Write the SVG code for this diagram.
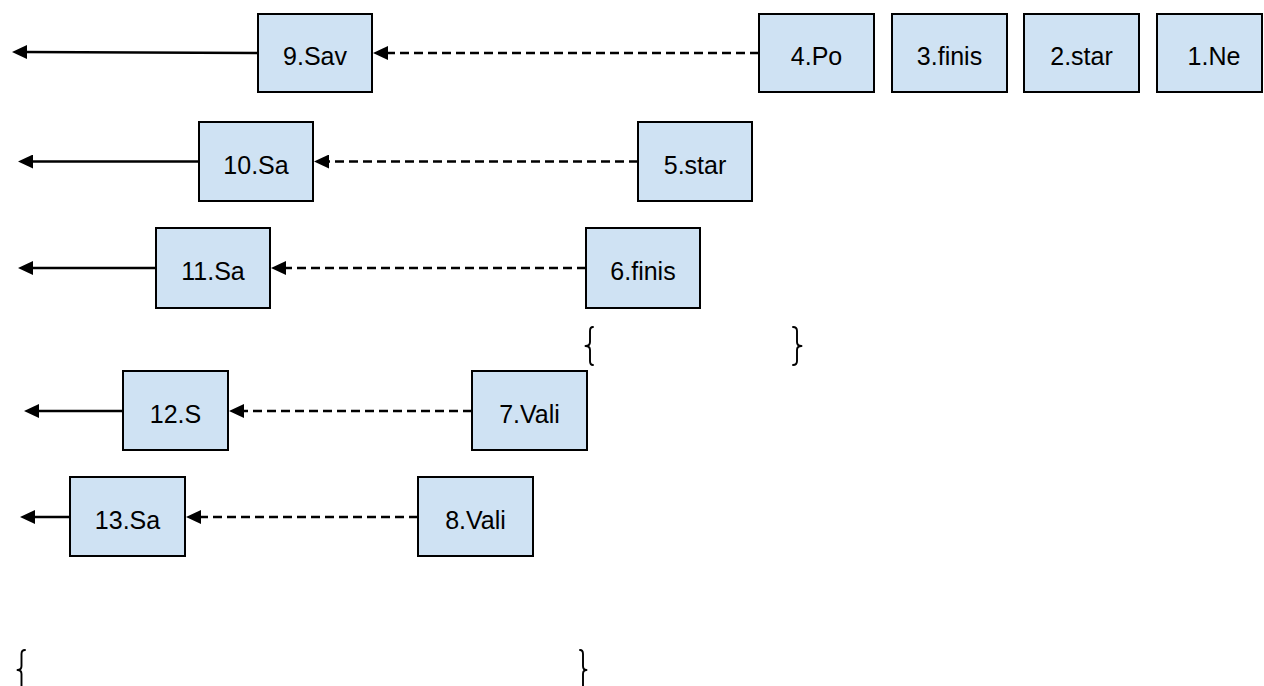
<svg xmlns="http://www.w3.org/2000/svg" width="1264" height="686" viewBox="0 0 1264 686">
<style>
.box{fill:#cfe2f3;stroke:#000;stroke-width:2}
.lbl{font-family:"Liberation Sans",Arial,sans-serif;font-size:25px;fill:#000;text-anchor:middle}
.solid{stroke:#000;stroke-width:2.4;fill:none;marker-end:url(#ah)}
.dash{stroke:#000;stroke-width:2.4;fill:none;stroke-dasharray:9 5;marker-end:url(#ah)}
.brace{stroke:#000;stroke-width:1.9;fill:none;stroke-linejoin:round;stroke-linecap:round}
</style>
<defs>
<marker id="ah" viewBox="0 0 15 14" refX="4" refY="7" markerWidth="15" markerHeight="14" markerUnits="userSpaceOnUse" orient="auto">
<path d="M0,0 L15,7 L0,14 z" fill="#000"/>
</marker>
</defs>
<rect width="1264" height="686" fill="#fff"/>
<g id="connectors">
<line class="solid" x1="257" y1="53" x2="23" y2="52"/>
<line class="dash" x1="759" y1="53" x2="384" y2="53"/>
<line class="solid" x1="199" y1="161.5" x2="29" y2="161.5"/>
<line class="dash" x1="638" y1="161.5" x2="325" y2="161.5"/>
<line class="solid" x1="156" y1="268" x2="29" y2="268"/>
<line class="dash" x1="586" y1="268" x2="282" y2="268"/>
<line class="solid" x1="123" y1="411" x2="35" y2="411"/>
<line class="dash" x1="472" y1="411" x2="240" y2="411"/>
<line class="solid" x1="70" y1="517" x2="31" y2="517"/>
<line class="dash" x1="418" y1="517" x2="197" y2="517"/>
</g>
<g id="n1"><rect class="box" x="1157" y="14" width="105" height="78"/><text class="lbl" x="1214" y="65">1.Ne</text></g>
<g id="n2"><rect class="box" x="1024" y="14" width="115" height="78"/><text class="lbl" x="1081.5" y="65">2.star</text></g>
<g id="n3"><rect class="box" x="892" y="14" width="115" height="78"/><text class="lbl" x="949.5" y="65">3.finis</text></g>
<g id="n4"><rect class="box" x="759" y="14" width="115" height="78"/><text class="lbl" x="816.5" y="65">4.Po</text></g>
<g id="n9"><rect class="box" x="258" y="14" width="114" height="78"/><text class="lbl" x="315" y="65">9.Sav</text></g>
<g id="n5"><rect class="box" x="638" y="122" width="114" height="79"/><text class="lbl" x="695" y="173.5">5.star</text></g>
<g id="n10"><rect class="box" x="199" y="122" width="114" height="79"/><text class="lbl" x="256" y="173.5">10.Sa</text></g>
<g id="n6"><rect class="box" x="586" y="228" width="114" height="80"/><text class="lbl" x="643" y="280">6.finis</text></g>
<g id="n11"><rect class="box" x="156" y="228" width="114" height="80"/><text class="lbl" x="213" y="280">11.Sa</text></g>
<g id="n7"><rect class="box" x="472" y="371" width="115" height="79"/><text class="lbl" x="529.5" y="423">7.Vali</text></g>
<g id="n12"><rect class="box" x="123" y="371" width="105" height="79"/><text class="lbl" x="175.5" y="423">12.S</text></g>
<g id="n8"><rect class="box" x="418" y="477" width="115" height="79"/><text class="lbl" x="475.5" y="529">8.Vali</text></g>
<g id="n13"><rect class="box" x="70" y="477" width="115" height="79"/><text class="lbl" x="127.5" y="529">13.Sa</text></g>
<g id="braces">
<path class="brace" d="M593,327 Q590,327 590,331 L590,342 Q590,346 585.5,346 Q590,346 590,350 L590,361 Q590,365 593,365"/>
<path class="brace" d="M793,327 Q797,327 797,331 L797,342 Q797,346 801.5,346 Q797,346 797,350 L797,361 Q797,365 793,365"/>
<path class="brace" d="M25,650 Q21.5,650 21.5,654 L21.5,666 Q21.5,670 17.5,670 Q21.5,670 21.5,674 L21.5,686 Q21.5,690 25,690"/>
<path class="brace" d="M580,650 Q583,650 583,654 L583,666 Q583,670 586.5,670 Q583,670 583,674 L583,686 Q583,690 580,690"/>
</g>
</svg>
